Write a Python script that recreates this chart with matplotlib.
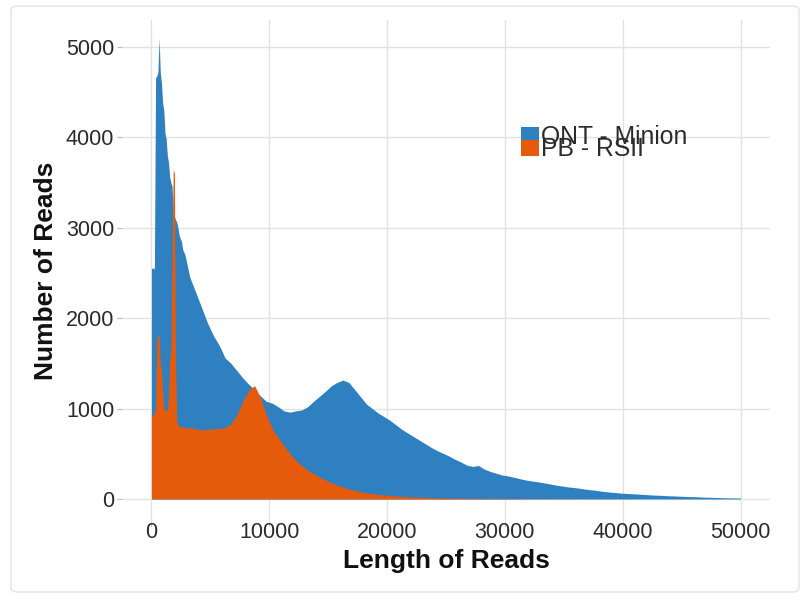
import numpy as np
import matplotlib
matplotlib.use("Agg")
import matplotlib.pyplot as plt
from matplotlib.patches import Patch, FancyBboxPatch

plt.rcParams['font.family'] = ['Liberation Sans', 'DejaVu Sans']

# ---- data ----
# histogram bins: 100 bp bins from 0 to 3000, then 500 bp bins up to 50000
fine_edges = list(range(0, 3000, 100))
coarse_edges = list(range(3000, 50001, 500))

ont_fine = [2550, 2560, 2540, 4660, 4680, 4720, 5100, 4720, 4600, 4380,
            4300, 4050, 3980, 3800, 3720, 3560, 3500, 3460, 3150, 3120,
            3090, 3060, 3000, 2920, 2880, 2850, 2760, 2730, 2700, 2640]
ont_coarse = [2455, 2290, 2120, 1950, 1810, 1700, 1560, 1500, 1420, 1340,
              1270, 1210, 1140, 1080, 1060, 1020, 975, 960, 975, 985,
              1020, 1080, 1135, 1190, 1250, 1290, 1315, 1290, 1210, 1130,
              1050, 1000, 950, 910, 870, 820, 770, 730, 690, 650,
              610, 570, 535, 505, 475, 440, 410, 375, 360, 370,
              330, 305, 285, 265, 255, 240, 225, 210, 200, 190,
              180, 168, 155, 145, 135, 128, 120, 110, 102, 95,
              85, 78, 72, 66, 62, 58, 55, 50, 46, 42,
              40, 36, 34, 31, 28, 26, 24, 21, 19, 17,
              15, 13, 12, 11]

pb_fine = [930, 930, 950, 1000, 1750, 1815, 1800, 1500, 1430, 1200,
           1000, 985, 975, 990, 1150, 1540, 1650, 2800, 3650, 3600,
           1500, 850, 820, 810, 800, 795, 800, 790, 785, 790]
pb_coarse = [790, 775, 765, 770, 775, 780, 790, 830, 930, 1080,
             1200, 1255, 1120, 930, 780, 680, 590, 500, 430, 370,
             320, 280, 245, 210, 180, 155, 130, 110, 95, 80,
             68, 58, 50, 44, 38, 33, 29, 25, 22, 19,
             17, 15, 13, 12, 11, 10, 9, 8, 7, 7,
             6, 6, 5, 5, 4, 4, 4, 3, 3, 3,
             3, 2, 2, 2, 2, 2, 1, 1, 1, 1,
             1, 1, 1, 1, 1, 1, 0, 0, 0, 0,
             0, 0, 0, 0, 0, 0, 0, 0, 0, 0,
             0, 0, 0, 0]

series_names = ["ONT - Minion", "PB - RSII"]
x_ticks = [0, 10000, 20000, 30000, 40000, 50000]
y_ticks = [0, 1000, 2000, 3000, 4000, 5000]

BLUE = "#2F80C0"
ORANGE = "#E65A0C"

edges = np.array(fine_edges + coarse_edges, dtype=float)
centers = (edges[:-1] + edges[1:]) / 2
ont = np.array(ont_fine + ont_coarse, dtype=float)
pb = np.array(pb_fine + pb_coarse, dtype=float)


def outline(vals):
    xs = np.concatenate([[edges[0]], centers, [edges[-1]]])
    ys = np.concatenate([[vals[0]], vals, [vals[-1]]])
    return xs, ys


W, H = 808, 598
fig = plt.figure(figsize=(W / 100, H / 100), dpi=100)
ax = fig.add_axes([122 / W, 1 - 522 / H, (770 - 122) / W, (522 - 20) / H])

xo, yo = outline(ont)
ax.fill_between(xo, 0, yo, color=BLUE, linewidth=0, zorder=2)
xp, yp = outline(pb)
ax.fill_between(xp, 0, yp, color=ORANGE, linewidth=0, zorder=3)

ax.set_xlim(-2500, 52500)
ax.set_ylim(-255, 5300)
ax.set_xticks(x_ticks)
ax.set_yticks(y_ticks)
ax.set_xticklabels([str(t) for t in x_ticks])
ax.set_yticklabels([str(t) for t in y_ticks])

ax.grid(True, color="#E2E2E2", linewidth=1.0)
ax.set_axisbelow(True)
for s in ax.spines.values():
    s.set_visible(False)
ax.tick_params(axis="both", colors="#BDBDBD", length=3.5, width=0.8,
               labelsize=15.5, labelcolor="#2B2B2B", pad=2)
ax.tick_params(axis="x", length=3, pad=-3)

ax.set_xlabel("Length of Reads", fontsize=19, fontweight="bold", color="#111111")
ax.set_ylabel("Number of Reads", fontsize=19, fontweight="bold", color="#111111")
ax.xaxis.set_label_coords(0.5, -0.054)
ax.yaxis.set_label_coords(-0.099, 0.5)

handles = [Patch(facecolor=BLUE, edgecolor="none", label=series_names[0]),
           Patch(facecolor=ORANGE, edgecolor="none", label=series_names[1])]
leg = ax.legend(handles=handles, loc="upper left",
                bbox_to_anchor=(521 / W, 1 - 125 / H), bbox_transform=fig.transFigure,
                frameon=False, fontsize=17.8, handlelength=0.72, handleheight=0.6,
                handletextpad=0.1, labelspacing=-0.47, borderpad=0, borderaxespad=0)
for t in leg.get_texts():
    t.set_color("#2B2B2B")

border = FancyBboxPatch((11 / W, 6 / H), (799 - 11) / W, (592 - 6) / H,
                        boxstyle="round,pad=0,rounding_size=0.008",
                        transform=fig.transFigure, facecolor="none",
                        edgecolor="#E4E4E4", linewidth=1.0)
fig.patches.append(border)

fig.savefig("out.png", dpi=100)
